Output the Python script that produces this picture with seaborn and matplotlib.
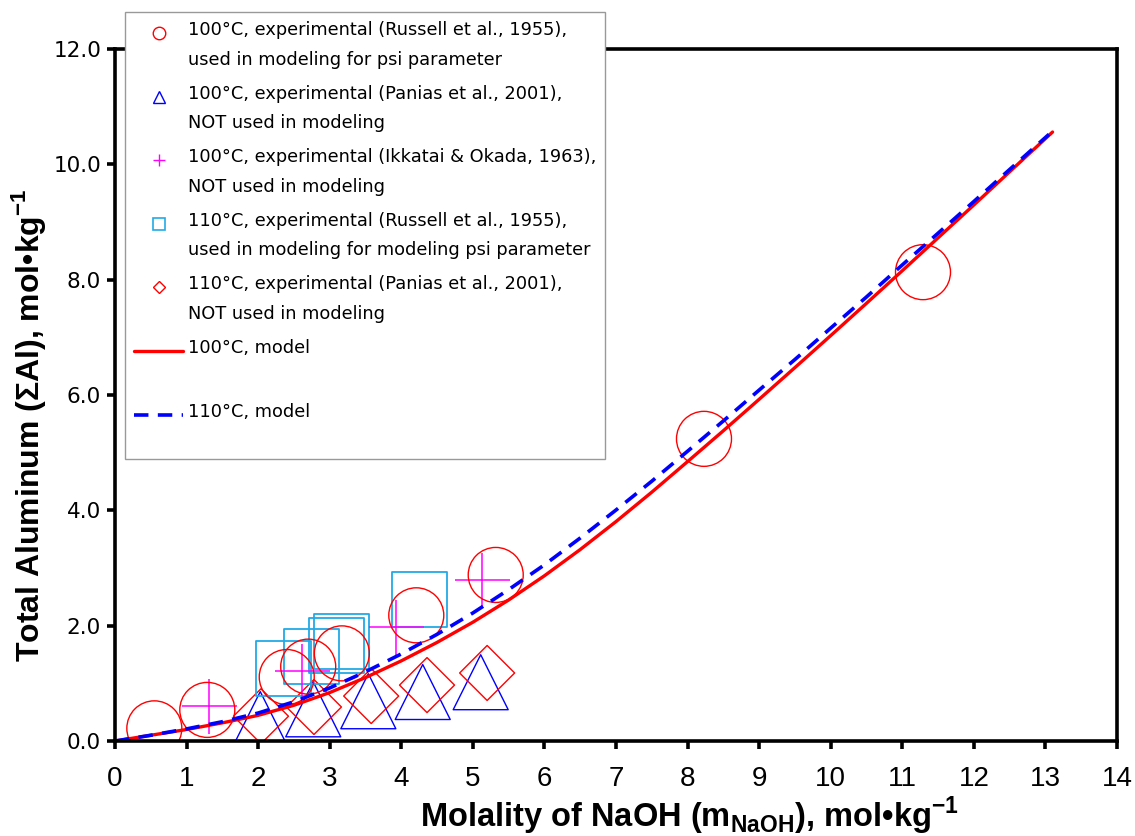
import numpy as np
import seaborn as sns
import matplotlib.pyplot as plt
from matplotlib.lines import Line2D
from matplotlib.legend_handler import HandlerLine2D

# experimental points
russell100_x = [0.55, 1.29, 2.40, 2.70, 3.17, 4.21, 5.32, 8.23, 11.29]
russell100_y = [0.22, 0.54, 1.11, 1.29, 1.52, 2.18, 2.88, 5.24, 8.13]
panias100_x = [2.03, 2.77, 3.54, 4.30, 5.11]
panias100_y = [0.38, 0.55, 0.69, 0.85, 1.02]
ikkatai100_x = [1.31, 2.61, 3.93, 5.13]
ikkatai100_y = [0.61, 1.21, 1.98, 2.79]
russell110_x = [2.35, 2.74, 3.10, 3.16, 4.26]
russell110_y = [1.25, 1.46, 1.66, 1.73, 2.46]
panias110_x = [2.04, 2.78, 3.58, 4.36, 5.20]
panias110_y = [0.43, 0.59, 0.78, 0.97, 1.18]

# model curves
model100_x = [0, 0.5, 1, 1.5, 2, 2.5, 3, 3.5, 4, 4.5, 5, 5.5, 6, 6.5, 7, 7.5,
              8, 8.5, 9, 9.5, 10, 10.5, 11, 11.5, 12, 12.5, 13.1]
model100_y = [0, 0.10, 0.20, 0.315, 0.445, 0.62, 0.84, 1.10, 1.39, 1.71, 2.06, 2.445,
              2.865, 3.32, 3.805, 4.315, 4.845, 5.38, 5.925, 6.475, 7.03, 7.59, 8.155,
              8.725, 9.295, 9.87, 10.56]
model110_x = [0, 0.5, 1, 1.5, 2, 2.5, 3, 3.5, 4, 4.5, 5, 5.5, 6, 6.5, 7, 7.5,
              8, 8.5, 9, 9.5, 10, 10.5, 11, 11.5, 12, 12.5, 13.05]
model110_y = [0, 0.10, 0.21, 0.335, 0.485, 0.68, 0.92, 1.20, 1.51, 1.85, 2.22, 2.625,
              3.055, 3.52, 4.005, 4.505, 5.025, 5.55, 6.085, 6.615, 7.16, 7.70, 8.255,
              8.805, 9.355, 9.91, 10.52]

labels = [
    "100°C, experimental (Russell et al., 1955),\nused in modeling for psi parameter",
    "100°C, experimental (Panias et al., 2001),\nNOT used in modeling",
    "100°C, experimental (Ikkatai & Okada, 1963),\nNOT used in modeling",
    "110°C, experimental (Russell et al., 1955),\nused in modeling for modeling psi parameter",
    "110°C, experimental (Panias et al., 2001),\nNOT used in modeling",
    "100°C, model\n",
    "110°C, model\n",
]

RED = "#ff0000"
BLUE = "#0000ff"
MAGENTA = "#ff00ff"
CYAN = "#22aae6"

sns.set_style("ticks")
plt.rcParams.update({
    "text.color": "black",
    "axes.labelcolor": "black",
    "xtick.color": "black",
    "ytick.color": "black",
    "mathtext.fontset": "custom",
    "mathtext.rm": "Liberation Sans",
    "mathtext.bf": "Liberation Sans:bold",
})

fig = plt.figure(figsize=(11.35, 8.36), dpi=100)
ax = fig.add_axes([0.1013, 0.1136, 0.8828, 0.8278])

big = 39.6 ** 2
sns.scatterplot(x=panias100_x, y=panias100_y, marker="^", s=big, facecolors="none",
                edgecolor=BLUE, linewidth=1, ax=ax, legend=False)
sns.scatterplot(x=panias110_x, y=panias110_y, marker="D", s=28 ** 2, facecolors="none",
                edgecolor=RED, linewidth=1, ax=ax, legend=False)
sns.scatterplot(x=russell110_x, y=russell110_y, marker="s", s=big, facecolors="none",
                edgecolor=CYAN, linewidth=1.3, ax=ax, legend=False)
sns.scatterplot(x=ikkatai100_x, y=ikkatai100_y, marker="+", s=big, color=MAGENTA,
                linewidth=1.1, ax=ax, legend=False)
sns.scatterplot(x=russell100_x, y=russell100_y, marker="o", s=big, facecolors="none",
                edgecolor=RED, linewidth=1, ax=ax, legend=False)

sns.lineplot(x=model100_x, y=model100_y, color=RED, linewidth=2.4, ax=ax)
sns.lineplot(x=model110_x, y=model110_y, color=BLUE, linewidth=2.6,
             linestyle=(0, (4, 2.6)), ax=ax)

ax.set_xlim(0, 14)
ax.set_ylim(0, 12)
ax.set_xticks(range(0, 15))
ax.set_yticks(np.arange(0, 12.1, 2))
ax.set_yticklabels([f"{v:.1f}" for v in np.arange(0, 12.1, 2)])
for s in ax.spines.values():
    s.set_linewidth(2.6)
    s.set_color("black")
ax.tick_params(axis="both", direction="out", length=6, width=2.6, color="black")
ax.tick_params(axis="x", labelsize=20, pad=12)
ax.tick_params(axis="y", labelsize=15.5, pad=4)
for t in ax.get_xticklabels():
    t.set_fontfamily("Liberation Sans")
for t in ax.get_yticklabels():
    t.set_fontfamily("DejaVu Sans")

ax.set_xlabel("Molality of NaOH (m$_\\mathbf{NaOH}$), mol•kg$^\\mathbf{-1}$",
              fontsize=23.5, fontweight="bold", fontfamily="Liberation Sans")
ax.set_ylabel("Total Aluminum (ΣAl), mol•kg$^\\mathbf{-1}$",
              fontsize=23, fontweight="bold", fontfamily="Liberation Sans")
ax.xaxis.set_label_coords(0.573, -0.078)
ax.yaxis.set_label_coords(-0.067, 0.457)


class RaisedHandler(HandlerLine2D):
    # put the legend symbol on the first line of a two-line label
    def create_artists(self, legend, orig_handle, xdescent, ydescent, width, height, fontsize, trans):
        return super().create_artists(legend, orig_handle, xdescent, ydescent - 18,
                                      width, height, fontsize, trans)


handles = [
    Line2D([], [], ls="none", marker="o", ms=9, mfc="none", mec=RED, mew=1),
    Line2D([], [], ls="none", marker="^", ms=9, mfc="none", mec=BLUE, mew=1),
    Line2D([], [], ls="none", marker="+", ms=9, color=MAGENTA, mew=1),
    Line2D([], [], ls="none", marker="s", ms=9, mfc="none", mec=CYAN, mew=1.2),
    Line2D([], [], ls="none", marker="D", ms=6.5, mfc="none", mec=RED, mew=1),
    Line2D([], [], color=RED, lw=2.4),
    Line2D([], [], color=BLUE, lw=2.6, ls=(0, (4, 2.6))),
]
leg = ax.legend(handles, labels, loc="upper left",
                bbox_to_anchor=(125 / 1135, 1 - 12 / 836), bbox_transform=fig.transFigure,
                borderaxespad=0, borderpad=0.5, handlelength=2.77, handletextpad=0.28,
                labelspacing=0.9, fancybox=False, framealpha=1, edgecolor="#999999",
                prop={"family": "DejaVu Sans", "size": 12.8},
                handler_map={Line2D: RaisedHandler()})
leg.get_frame().set_linewidth(1.0)
for t in leg.get_texts():
    t.set_linespacing(1.83)

fig.savefig("out.png", dpi=100)
